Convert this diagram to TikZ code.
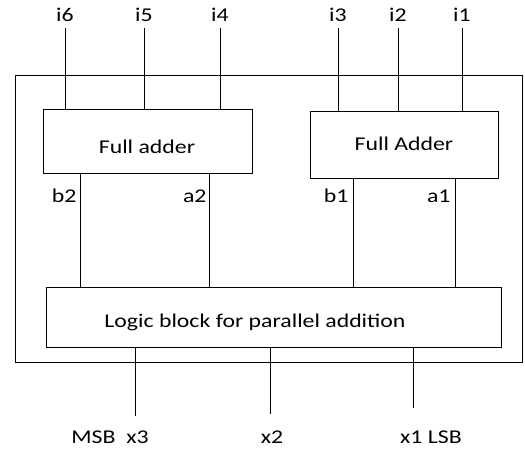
\documentclass[tikz,border=0pt]{standalone}
\usepackage{fontspec}
\setmainfont{Carlito}[FakeStretch=1.22]
\begin{document}
\begin{tikzpicture}[x=1pt, y=-1pt, line width=0.9pt,
    block/.style={draw, rectangle, inner sep=0pt},
    sig/.style={font=\fontsize{19.5}{22}\selectfont, inner sep=1pt}]
    \useasboundingbox (0,0) rectangle (525,449);

    % Boxes
    \node[block, minimum width=507pt, minimum height=287pt] (chip) at (268.5,218.5) {};
    \node[block, minimum width=209pt, minimum height=64pt] (fa2) at (147.5,141) {};
    \node[block, minimum width=188pt, minimum height=67pt] (fa1) at (404,144.5) {};
    \node[block, minimum width=455pt, minimum height=60pt] (logic) at (273.5,317) {};
    \node[sig] (fa2txt) at (147,147) {Full adder};
    \node[sig] (fa1txt) at (404,144) {Full Adder};
    \node[sig] (logictxt) at (255,322) {Logic block for parallel addition};

    % Inputs
    \foreach \n/\x/\blk in {6/65/fa2, 5/144/fa2, 4/220/fa2, 3/338/fa1, 2/398/fa1, 1/462/fa1} {
        \node[sig] (i\n) at (\x,15) {i\n};
        \draw ([yshift=-5pt]i\n.south) -- (i\n |- \blk.north);
    }

    % Full adder outputs
    \coordinate (b2) at (80,0);
    \coordinate (a2) at (209,0);
    \coordinate (b1) at (353,0);
    \coordinate (a1) at (455,0);
    \draw (fa2.south -| b2) -- (logic.north -| b2);
    \draw (fa2.south -| a2) -- (logic.north -| a2);
    \draw (fa1.south -| b1) -- (logic.north -| b1);
    \draw (fa1.south -| a1) -- (logic.north -| a1);
    \node[sig, anchor=east] (b2txt) at (78,196) {b2};
    \node[sig, anchor=east] (a2txt) at (208,196) {a2};
    \node[sig, anchor=east] (b1txt) at (350,196) {b1};
    \node[sig, anchor=east] (a1txt) at (452,196) {a1};

    % Outputs
    \coordinate (x3end) at (135,416);
    \coordinate (x2end) at (270,414);
    \coordinate (x1end) at (413,408);
    \draw (logic.south -| x3end) -- (x3end);
    \draw (logic.south -| x2end) -- (x2end);
    \draw (logic.south -| x1end) -- (x1end);
    \node[sig] (x3) at (110,437) {MSB\ \ x3};
    \node[sig] (x2) at (272,437) {x2};
    \node[sig] (x1) at (431,437) {x1 LSB};
\end{tikzpicture}
\end{document}
